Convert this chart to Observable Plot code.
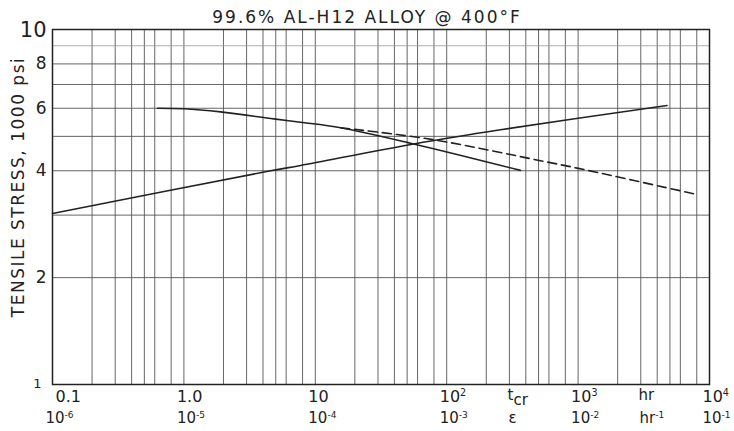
<!DOCTYPE html>
<html><head><meta charset="utf-8">
<script src="https://cdn.jsdelivr.net/npm/d3@7"></script>
<script src="https://cdn.jsdelivr.net/npm/@observablehq/plot@0.6"></script>
<style>body{margin:0;background:#fff;} svg{display:block}</style>
</head><body><div id="chart"></div>
<script>
const title = "99.6% AL-H12 ALLOY @ 400°F";
const yLabel = "TENSILE STRESS, 1000 psi";

// rising solid curve (creep-rate axis)
const risingT = [0.1, 4.57, 7.73, 56.2, 257, 4750];
const risingS = [3.03, 4.0, 4.14, 4.76, 5.22, 6.11];
// declining solid curve (rupture time)
const solidT = [0.63, 1.0, 1.9, 4.84, 7.73, 15.6, 56.2, 364];
const solidS = [6.0, 5.98, 5.86, 5.60, 5.48, 5.29, 4.76, 4.01];
// dashed extrapolation
const dashT = [15.6, 79.8, 517, 982, 8030];
const dashS = [5.29, 4.89, 4.27, 4.07, 3.43];

// grid
const xGridMantissas = [1, 2, 3, 4, 5, 6, 8];
const xDecades = [0.1, 1, 10, 100, 1000];
const xGrid = xDecades.flatMap(d => xGridMantissas.map(m => +(d * m).toPrecision(6))).concat([10000]);
const yGrid = [2, 3, 4, 5, 6, 7, 8, 10];
const yGridLight = [9];

// tick labels
const yTickVals = [2, 4, 6, 8];
const xTopVals = [1, 10, 100, 1000, 10000];
const xTopLabels = ["1.0", "10", "10²", "10³", "10⁴"];
const xBotVals = [0.1, 1, 10, 100, 1000, 10000];
const xBotLabels = ["10⁻⁶", "10⁻⁵", "10⁻⁴", "10⁻³", "10⁻²", "10⁻¹"];
const unitX = [290, 2880];          // positions of the unit labels (data units)
const unitTop = ["t", "hr"];
const unitBot = ["ε", "hr⁻¹"];

const pts = (T, S) => T.map((t, i) => ({t, s: S[i]}));
const ink = "#222";
const lbl = {frameAnchor: "bottom", textAnchor: "start", lineAnchor: "middle", fill: ink};

const chart = Plot.plot({
  width: 734, height: 431,
  marginLeft: 52, marginRight: 25, marginTop: 29, marginBottom: 47,
  x: {type: "log", domain: [0.1, 1e4], axis: null},
  y: {type: "log", domain: [1, 10], axis: null},
  style: {fontFamily: "DejaVu Sans", background: "white", color: ink},
  marks: [
    Plot.ruleX(xGrid, {stroke: "#555", strokeWidth: 0.9}),
    Plot.ruleY(yGrid, {stroke: "#555", strokeWidth: 0.9}),
    Plot.ruleY(yGridLight, {stroke: "#999", strokeWidth: 0.8}),
    Plot.frame({stroke: ink, strokeWidth: 1.5}),
    Plot.line(pts(risingT, risingS), {x: "t", y: "s", curve: "catmull-rom", stroke: ink, strokeWidth: 1.6}),
    Plot.line(pts(solidT, solidS), {x: "t", y: "s", curve: "catmull-rom", stroke: ink, strokeWidth: 1.6}),
    Plot.line(pts(dashT, dashS), {x: "t", y: "s", curve: "catmull-rom", stroke: ink, strokeWidth: 1.6, strokeDasharray: "9,5"}),
    // y tick labels
    Plot.text(yTickVals, {y: d => d, text: d => String(d), frameAnchor: "left", dx: -6, textAnchor: "end", lineAnchor: "middle", fontSize: 17, fill: ink}),
    Plot.text([10], {y: d => d, text: d => String(d), frameAnchor: "left", dx: -6, dy: 1, textAnchor: "end", lineAnchor: "middle", fontSize: 21, fill: ink}),
    Plot.text([1], {y: d => d, text: d => String(d), frameAnchor: "left", dx: -11, dy: -1, textAnchor: "end", lineAnchor: "middle", fontSize: 13, fill: ink}),
    // x tick labels, top row (time, hr)
    Plot.text([0.1], {...lbl, x: d => d, text: () => "0.1", dy: 12, dx: 3, fontSize: 16}),
    Plot.text(xTopVals, {...lbl, x: d => d, text: (d, i) => xTopLabels[i], dy: 12, dx: -7, fontSize: 16}),
    // x tick labels, bottom row (strain rate, hr^-1)
    Plot.text(xBotVals, {...lbl, x: d => d, text: (d, i) => xBotLabels[i], dy: 34, dx: -7, fontSize: 15}),
    // unit labels
    Plot.text(unitX, {...lbl, x: d => d, text: (d, i) => unitTop[i], dy: 11, fontSize: 15}),
    Plot.text(unitX.slice(0, 1), {...lbl, x: d => d, text: () => "cr", dy: 16, dx: 6, fontSize: 15}),
    Plot.text(unitX, {...lbl, x: d => d, text: (d, i) => unitBot[i], dy: 34, dx: 1, fontSize: 15}),
    // title and y label
    Plot.text([title], {text: d => d, frameAnchor: "top", textAnchor: "middle", lineAnchor: "middle", dy: -12, dx: -14, fontSize: 17, fill: ink}),
    Plot.text([yLabel], {text: d => d, frameAnchor: "left", textAnchor: "middle", lineAnchor: "middle", rotate: -90, dx: -34, dy: -20, fontSize: 17, fill: ink})
  ]
});

const supMap = {"⁻": "-", "¹": "1", "²": "2", "³": "3", "⁴": "4", "⁵": "5", "⁶": "6"};
d3.select(chart).selectAll("text").each(function () {
  const t = this.textContent;
  if (t === title) d3.select(this).style("letter-spacing", "2px");
  if (t === yLabel) d3.select(this).style("letter-spacing", "1.5px");
  const m = t.match(/^([^⁻¹²³⁴⁵⁶]+)([⁻¹²³⁴⁵⁶]+)$/);
  if (m) {
    const el = d3.select(this);
    el.text(null);
    el.append("tspan").text(m[1]);
    el.append("tspan").attr("dy", "-0.6em").attr("font-size", "0.6em")
      .text([...m[2]].map(c => supMap[c]).join(""));
  }
});

document.getElementById("chart").appendChild(chart);
</script>
</body></html>
